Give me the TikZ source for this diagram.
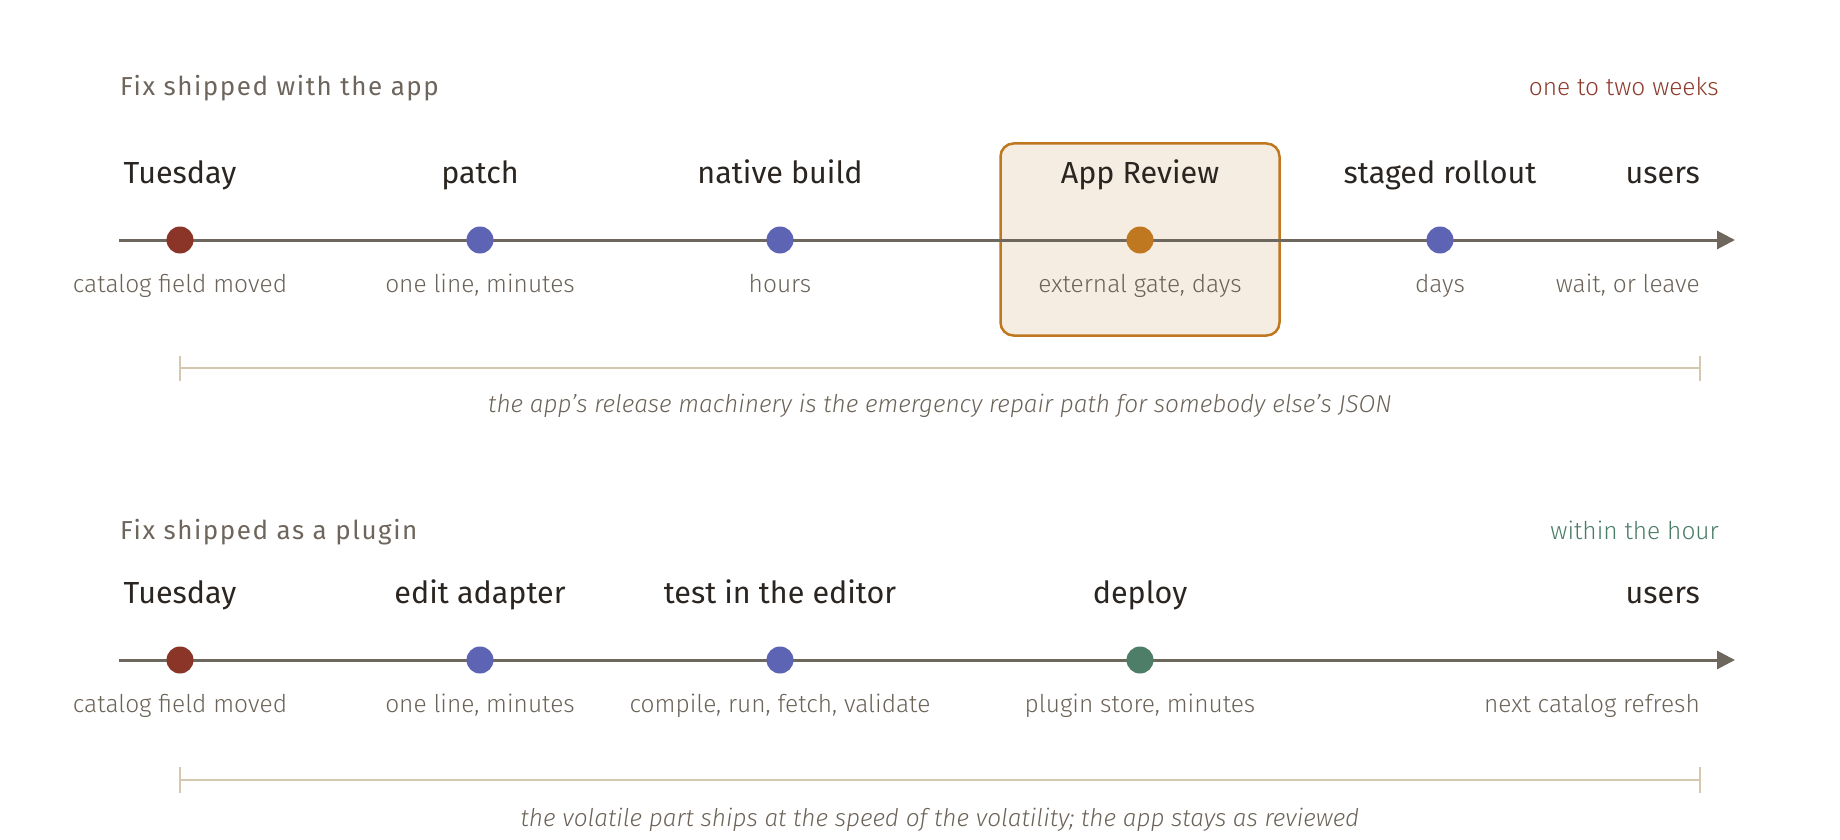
\documentclass[tikz,border=0pt]{standalone}
\usepackage{fontspec}
\setmainfont{Fira Sans}
\newfontfamily\fhead{Fira Sans}
\newfontfamily\flight{Fira Sans Light}
\newfontfamily\ftitle[LetterSpace=6]{Fira Sans}
\usetikzlibrary{arrows.meta}
\definecolor{axisc}{HTML}{6E675E}
\definecolor{dotred}{HTML}{8B3528}
\definecolor{dotblue}{HTML}{5D64B4}
\definecolor{dotorange}{HTML}{C07820}
\definecolor{dotgreen}{HTML}{4E7E68}
\definecolor{headc}{HTML}{2A2520}
\definecolor{subc}{HTML}{6B6358}
\definecolor{titlec}{HTML}{6E665C}
\definecolor{weeksc}{HTML}{8E3A2B}
\definecolor{hourc}{HTML}{4A7D66}
\definecolor{brackc}{HTML}{D4C8B0}
\definecolor{boxfill}{HTML}{F5EDE2}
\tikzset{
  axisline/.style={draw=axisc, line width=3pt, -{Triangle[length=18pt,width=18pt]}},
  dot/.style={circle, inner sep=0pt, minimum size=27pt},
  head/.style={anchor=base, text=headc, font=\fhead\fontsize{30.5}{34}\selectfont, inner sep=0pt},
  sub/.style={anchor=base, text=subc, font=\flight\fontsize{24.5}{28}\selectfont, inner sep=0pt},
  ttl/.style={anchor=base west, text=titlec, font=\ftitle\fontsize{26}{30}\selectfont, inner sep=0pt},
  dur/.style={anchor=base east, font=\flight\fontsize{24.5}{28}\selectfont, inner sep=0pt},
  brack/.style={draw=brackc, line width=2.5pt},
  captxt/.style={anchor=base, text=subc, font=\flight\itshape\fontsize{24.4}{28}\selectfont, inner sep=0pt},
  gate/.style={draw=dotorange, fill=boxfill, line width=2.5pt, rounded corners=13pt, minimum width=279pt, minimum height=192pt, inner sep=0pt}
}
\begin{document}
\begin{tikzpicture}[x=1pt,y=-1pt]
\useasboundingbox (0,0) rectangle (1840,840);
% ---------- top ----------
\node[ttl] (t1) at (120,96) {Fix shipped with the app};
\node[dur, text=weeksc] (w1) at (1719,96) {one to two weeks};
\node[gate] (gatebox) at (1140,239.5) {};
\coordinate (s1) at (119,240);
\coordinate (e1) at (1735,240);
\draw[axisline] (s1) -- (e1);
\node[dot, fill=dotred] (a1) at (180,240) {};
\node[dot, fill=dotblue] (a2) at (480,240) {};
\node[dot, fill=dotblue] (a3) at (780,240) {};
\node[dot, fill=dotorange] (a4) at (1140,240) {};
\node[dot, fill=dotblue] (a5) at (1440,240) {};
\node[head] (h1) at (180,183) {Tuesday};
\node[head] (h2) at (480,183) {patch};
\node[head] (h3) at (780,183) {native build};
\node[head] (h4) at (1140,183) {App Review};
\node[head] (h5) at (1440,183) {staged rollout};
\node[head, anchor=base east] (h6) at (1700,183) {users};
\node[sub] (l1) at (180,292) {catalog field moved};
\node[sub] (l2) at (480,292) {one line, minutes};
\node[sub] (l3) at (780,292) {hours};
\node[sub] (l4) at (1140,292) {external gate, days};
\node[sub] (l5) at (1440,292) {days};
\node[sub, anchor=base east] (l6) at (1700,292) {wait, or leave};
\coordinate (b1l) at (180,368);
\coordinate (b1r) at (1700,368);
\draw[brack] (b1l) -- (b1r);
\draw[brack] ([yshift=-13pt]b1l) -- ([yshift=12pt]b1l);
\draw[brack] ([yshift=-13pt]b1r) -- ([yshift=12pt]b1r);
\node[captxt] (c1) at (940,412) {the app’s release machinery is the emergency repair path for somebody else’s JSON};
% ---------- bottom ----------
\node[ttl] (t2) at (120,539) {Fix shipped as a plugin};
\node[dur, text=hourc] (w2) at (1719,539) {within the hour};
\coordinate (s2) at (119,660);
\coordinate (e2) at (1735,660);
\draw[axisline] (s2) -- (e2);
\node[dot, fill=dotred] (p1) at (180,660) {};
\node[dot, fill=dotblue] (p2) at (480,660) {};
\node[dot, fill=dotblue] (p3) at (780,660) {};
\node[dot, fill=dotgreen] (p4) at (1140,660) {};
\node[head] (k1) at (180,603) {Tuesday};
\node[head] (k2) at (480,603) {edit adapter};
\node[head] (k3) at (780,603) {test in the editor};
\node[head] (k4) at (1140,603) {deploy};
\node[head, anchor=base east] (k6) at (1700,603) {users};
\node[sub] (m1) at (180,712) {catalog field moved};
\node[sub] (m2) at (480,712) {one line, minutes};
\node[sub] (m3) at (780,712) {compile, run, fetch, validate};
\node[sub] (m4) at (1140,712) {plugin store, minutes};
\node[sub, anchor=base east] (m6) at (1700,712) {next catalog refresh};
\coordinate (b2l) at (180,780);
\coordinate (b2r) at (1700,780);
\draw[brack] (b2l) -- (b2r);
\draw[brack] ([yshift=-13pt]b2l) -- ([yshift=13pt]b2l);
\draw[brack] ([yshift=-13pt]b2r) -- ([yshift=13pt]b2r);
\node[captxt] (c2) at (940,826) {the volatile part ships at the speed of the volatility; the app stays as reviewed};
\end{tikzpicture}
\end{document}
